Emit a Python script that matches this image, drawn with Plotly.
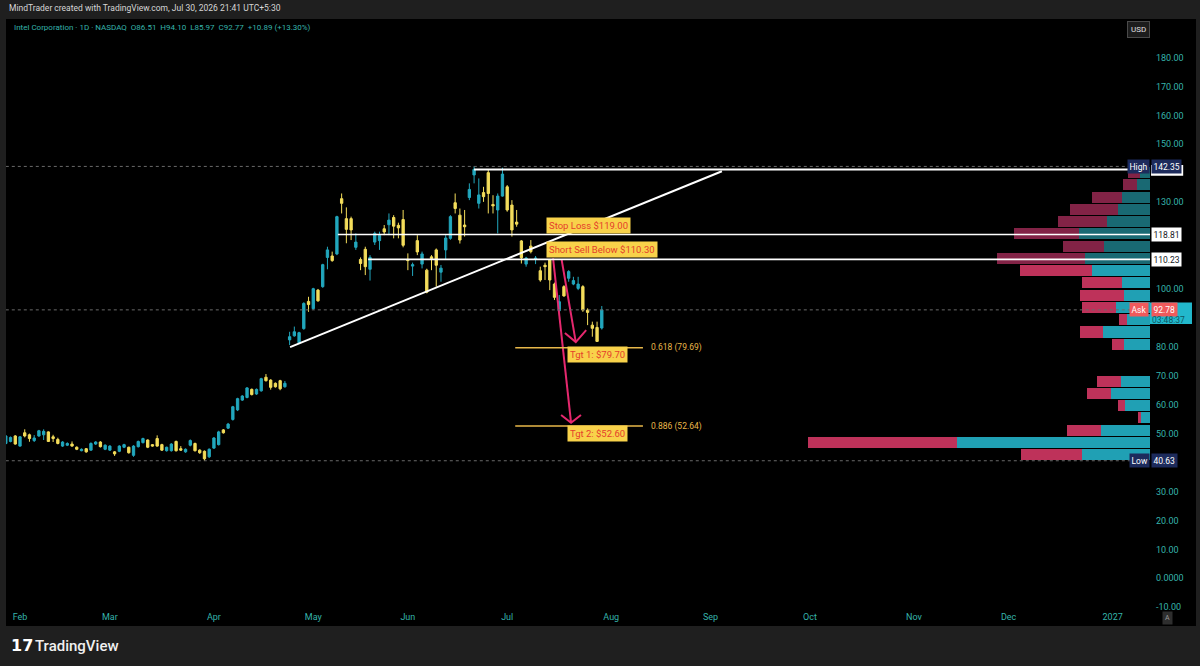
import pandas as pd
import plotly.graph_objects as go

# ---------------- data ----------------
first_bar = "2026-01-28"
anchor_day = "2026-02-02"
holidays = ["2026-02-16", "2026-04-03", "2026-05-25", "2026-06-19", "2026-07-03",
            "2026-09-07", "2026-11-26", "2026-12-25", "2027-01-01"]

opens = [46.6, 47.3, 49.2, 45.7, 50.3, 49.6, 47.6, 49.2, 49.6, 50.6, 48.9, 48.0, 45.7, 46.0, 46.4, 45.3,
         44.1, 44.8, 44.3, 46.4, 47.1, 44.6, 44.3, 43.7, 43.9, 45.3, 45.3, 42.5, 45.5, 46.9, 47.8, 46.2,
         48.3, 46.2, 44.1, 44.1, 47.3, 44.8, 43.7, 46.0, 46.6, 44.3, 43.9, 42.0, 45.0, 46.2, 51.3, 51.9,
         54.9, 58.2, 61.6, 62.5, 65.3, 63.7, 64.8, 69.5, 68.5, 67.4, 68.3, 66.2, 82.4, 83.8, 81.4, 86.3,
         95.7, 93.2, 99.6, 100.8, 110.9, 111.4, 112.1, 131.2, 124.3, 124.3, 114.4, 110.2, 113.7, 106.8,
         116.2, 116.7, 120.8, 122.2, 124.7, 122.0, 124.0, 110.2, 107.9, 116.7, 108.6, 106.5, 111.1, 113.5,
         105.8, 113.5, 117.5, 129.8, 125.5, 122.1, 131.6, 139.4, 129.6, 133.3, 140.2, 129.2, 127.3, 132.1,
         135.3, 129.0, 123.1, 116.6, 108.6, 114.8, 110.2, 106.3, 108.2, 110.0, 101.7, 92.5, 100.8, 103.7,
         101.7, 100.2, 100.8, 92.7, 87.5, 86.7, 86.51]
highs = [49.5, 49.0, 49.5, 49.2, 51.5, 50.0, 49.5, 51.3, 51.5, 50.8, 49.6, 48.6, 47.4, 47.0, 47.3, 45.6,
         44.9, 45.0, 47.0, 47.4, 47.4, 46.3, 46.0, 44.0, 46.0, 46.5, 45.5, 46.0, 47.6, 48.6, 48.0, 46.4,
         49.4, 46.5, 45.5, 46.7, 47.6, 45.7, 44.9, 48.0, 46.9, 44.6, 44.2, 44.9, 48.8, 51.0, 51.6, 53.7,
         59.6, 62.4, 63.3, 66.1, 65.6, 65.6, 69.3, 70.6, 68.8, 67.7, 68.6, 68.2, 85.2, 87.0, 85.2, 95.4,
         97.3, 100.4, 100.0, 108.7, 114.6, 112.9, 125.3, 133.0, 128.2, 125.0, 119.2, 110.9, 114.6, 111.7,
         119.8, 119.8, 122.1, 126.1, 125.5, 122.9, 127.3, 112.3, 109.1, 118.6, 112.9, 107.0, 111.7, 114.0,
         108.3, 118.6, 125.5, 133.0, 127.8, 127.3, 136.5, 142.35, 138.2, 135.3, 141.1, 132.4, 133.0, 141.9,
         135.9, 130.7, 127.3, 116.9, 111.1, 116.9, 111.4, 107.7, 109.1, 110.2, 102.2, 97.9, 101.3, 106.5,
         104.2, 104.2, 101.3, 93.3, 88.7, 88.7, 94.10]
lows = [46.3, 47.0, 46.2, 45.5, 48.7, 47.2, 47.1, 48.9, 47.8, 47.1, 47.1, 46.3, 45.4, 45.7, 45.5, 44.3,
        43.9, 43.4, 44.1, 46.1, 45.2, 44.3, 44.0, 42.3, 43.6, 45.0, 43.1, 42.0, 45.2, 46.6, 45.0, 45.5,
        45.5, 44.0, 43.8, 43.8, 43.8, 44.0, 43.4, 45.6, 43.8, 43.0, 40.63, 41.6, 44.7, 45.9, 50.0, 51.6,
        54.5, 57.8, 61.3, 62.2, 63.2, 63.4, 64.5, 68.0, 65.2, 65.9, 65.0, 65.9, 80.6, 83.5, 81.1, 85.9,
        92.1, 92.8, 95.6, 100.4, 106.8, 109.4, 111.7, 126.1, 115.8, 116.9, 113.5, 106.5, 104.8, 102.9,
        115.2, 113.5, 118.6, 118.6, 117.5, 117.5, 114.4, 106.5, 104.5, 111.7, 107.1, 98.5, 106.5, 100.8,
        102.5, 110.0, 117.0, 126.1, 115.7, 118.1, 130.7, 136.5, 127.8, 130.1, 126.1, 126.1, 119.2, 131.9,
        126.7, 118.1, 121.5, 108.8, 107.7, 112.3, 108.6, 102.5, 103.1, 99.6, 96.2, 92.1, 97.3, 102.5,
        101.3, 99.6, 92.1, 87.5, 83.5, 81.7, 85.97]
closes = [49.2, 48.7, 46.4, 48.9, 49.2, 48.3, 48.5, 51.0, 50.8, 47.3, 48.3, 46.6, 47.1, 46.6, 45.7, 44.6,
          44.6, 43.7, 46.6, 47.1, 45.5, 46.0, 45.7, 43.0, 45.7, 46.2, 43.4, 45.7, 47.3, 48.3, 45.3, 45.7,
          45.7, 44.3, 45.3, 46.4, 44.1, 44.3, 44.6, 47.6, 44.1, 43.4, 41.3, 44.6, 48.5, 50.6, 50.3, 53.3,
          59.3, 62.1, 63.0, 65.8, 63.5, 65.3, 69.0, 68.3, 66.0, 66.2, 65.5, 67.4, 83.5, 85.2, 84.9, 95.0,
          94.6, 100.1, 95.9, 108.4, 113.5, 109.8, 125.0, 129.6, 120.6, 120.4, 116.2, 108.8, 107.7, 110.9,
          119.2, 118.5, 119.7, 123.8, 121.7, 121.1, 115.1, 109.8, 108.4, 112.8, 112.1, 98.9, 110.5, 108.2,
          107.2, 117.6, 125.0, 127.8, 116.9, 121.5, 134.4, 141.3, 132.5, 131.9, 133.0, 128.7, 132.1, 139.7,
          127.3, 120.4, 122.4, 110.8, 110.7, 112.9, 110.7, 103.1, 107.7, 103.1, 97.1, 95.6, 97.6, 106.0,
          102.9, 101.7, 92.7, 91.9, 86.4, 81.88, 92.77]

month_labels = ["Feb", "Mar", "Apr", "May", "Jun", "Jul", "Aug", "Sep", "Oct", "Nov", "Dec", "2027"]
price_ticks = [-10, 0, 10, 20, 30, 50, 60, 70, 80, 100, 130, 150, 160, 170, 180]
price_tick_text = ["-10.00", "0.0000", "10.00", "20.00", "30.00", "50.00", "60.00", "70.00", "80.00",
                   "100.00", "130.00", "150.00", "160.00", "170.00", "180.00"]

# volume profile (visible range), rows from high to low
vp_high = 142.35
vp_low = 40.63
vp_up = [10, 13.3, 28.3, 32.3, 42.7, 70.7, 45.7, 65, 57.7, 27.7, 26, 34, 23.3, 46.7, 26, 0, 0,
         29.3, 39.3, 25, 9.3, 49.3, 192.7, 67.7]
vp_down = [11.7, 14, 29.3, 47.7, 49.7, 65, 41, 87.7, 72.3, 40.7, 44, 33.7, 7.3, 23.3, 12.3, 0, 0,
           24, 24, 7.3, 2.3, 34, 149, 61.7]
vp_in_value_area = [False] * 8 + [True] * 16

# levels & drawings
last_price = 92.78
stop_loss = 118.81
short_below = 110.23
range_top = 141.33
fib_levels = [79.69, 52.64]
fib_names = ["0.618 (79.69)", "0.886 (52.64)"]
trend_x = [57.1, 148.4]
trend_y = [79.9, 140.7]
top_line_x = [96.0, 234.7]
sl_start_x = 67.2
ss_start_x = 73.6
fib_x = [104.7, 131.7]
arrow_long = dict(x=[112.7, 116.5], y=[110.57, 53.77], head_x=[114.4, 116.5, 118.6], head_y=[56.45, 53.77, 56.45])
arrow_short = dict(x=[114.5, 117.5], y=[110.2, 81.65], head_x=[115.2, 117.5, 119.7], head_y=[84.76, 81.65, 85.8])

# ---------------- build ----------------
FONT = "Roboto"
TEAL = "#22a7bd"
YELLOW = "#f4dd5b"
AXIS_TXT = "#35b3ab"
PINK = "#e6286e"
FIB = "#e8b84a"

days = [d for d in pd.bdate_range(first_bar, "2027-02-26") if d.strftime("%Y-%m-%d") not in holidays]
i0 = [d.strftime("%Y-%m-%d") for d in days].index(anchor_day)
xs = [i - i0 for i in range(len(opens))]

tickvals = []
seen = set()
for i, d in enumerate(days):
    key = (d.year, d.month)
    if key not in seen:
        seen.add(key)
        if (d.year == 2026 and d.month >= 2) or (d.year == 2027 and d.month == 1):
            tickvals.append(i - i0)
tickvals = tickvals[:len(month_labels)]

fig = go.Figure()

fig.add_trace(go.Candlestick(
    x=xs, open=opens, high=highs, low=lows, close=closes,
    increasing=dict(line=dict(color=TEAL, width=1), fillcolor=TEAL),
    decreasing=dict(line=dict(color=YELLOW, width=1), fillcolor=YELLOW),
    whiskerwidth=0, hoverinfo="skip", showlegend=False))

# volume profile
row_h = (vp_high - vp_low) / len(vp_up)
centers = [vp_high - (k + 0.5) * row_h for k in range(len(vp_up))]
up_cols = ["#20a0b4" if v else "#196973" for v in vp_in_value_area]
dn_cols = ["#be325a" if v else "#822346" for v in vp_in_value_area]
fig.add_trace(go.Bar(y=centers, x=vp_up, orientation="h", base=0, width=row_h * 0.9,
                     marker=dict(color=up_cols, line=dict(width=0)), xaxis="x2", yaxis="y",
                     hoverinfo="skip", showlegend=False))
fig.add_trace(go.Bar(y=centers, x=vp_down, orientation="h", base=vp_up, width=row_h * 0.9,
                     marker=dict(color=dn_cols, line=dict(width=0)), xaxis="x2", yaxis="y",
                     hoverinfo="skip", showlegend=False))

# arrows
for arr in (arrow_long, arrow_short):
    fig.add_trace(go.Scatter(x=arr["x"], y=arr["y"], mode="lines", line=dict(color=PINK, width=2),
                             hoverinfo="skip", showlegend=False))
    fig.add_trace(go.Scatter(x=arr["head_x"], y=arr["head_y"], mode="lines", line=dict(color=PINK, width=2),
                             hoverinfo="skip", showlegend=False))

shapes = []
# black chart panel
shapes.append(dict(type="rect", xref="paper", yref="paper", x0=0, x1=1.0402, y0=-0.027, y1=1.0,
                   fillcolor="#000000", line=dict(width=0), layer="below"))
# dotted lines: high, last price, low
for lv in (vp_high, last_price, vp_low):
    shapes.append(dict(type="line", xref="x", yref="y", x0=-3, x1=top_line_x[1], y0=lv, y1=lv,
                       line=dict(color="#6a6a6a", width=1, dash="dot")))
# white drawings
shapes.append(dict(type="line", xref="x", yref="y", x0=trend_x[0], y0=trend_y[0], x1=trend_x[1], y1=trend_y[1],
                   line=dict(color="#ffffff", width=2)))
shapes.append(dict(type="line", xref="x", yref="y", x0=top_line_x[0], x1=top_line_x[1], y0=range_top, y1=range_top,
                   line=dict(color="#ffffff", width=2)))
shapes.append(dict(type="line", xref="x", yref="y", x0=sl_start_x, x1=240, y0=stop_loss, y1=stop_loss,
                   line=dict(color="#ffffff", width=1.6)))
shapes.append(dict(type="line", xref="x", yref="y", x0=ss_start_x, x1=240, y0=short_below, y1=short_below,
                   line=dict(color="#ffffff", width=1.6)))
for lv in fib_levels:
    shapes.append(dict(type="line", xref="x", yref="y", x0=fib_x[0], x1=fib_x[1], y0=lv, y1=lv,
                       line=dict(color=FIB, width=1.5)))
# hidden price label of the range-top line (mostly covered by the High badge)
shapes.append(dict(type="rect", xref="paper", yref="y", x0=1.0009, x1=1.029, y0=range_top - 2.2, y1=range_top + 1.5,
                   fillcolor="#ffffff", line=dict(width=0), layer="above"))
# countdown box behind last price
shapes.append(dict(type="rect", xref="paper", yref="y", x0=1.0, x1=1.0367, y0=last_price - 4.9, y1=last_price + 2.5,
                   fillcolor="#22b8cc", line=dict(width=0), layer="above"))

ann = []


def txt(text, x, y, size=9, color="#ffffff", xanchor="left", yanchor="middle", xref="x", yref="y",
        bg=None, pad=2, xshift=0, yshift=0, weight="normal", family=FONT, border=None):
    d = dict(text=text, x=x, y=y, xref=xref, yref=yref, xanchor=xanchor, yanchor=yanchor,
             showarrow=False, font=dict(size=size, color=color, family=family, weight=weight),
             borderpad=pad, xshift=xshift, yshift=yshift)
    if bg:
        d["bgcolor"] = bg
    if border:
        d["bordercolor"] = border
        d["borderwidth"] = 1
    return d


LBL_BG = "#f8d24a"
LBL_FG = "#e5402b"
ann.append(txt("Stop Loss $119.00", 111.2, 122.1, size=9.5, color=LBL_FG, bg=LBL_BG))
ann.append(txt("Short Sell Below $110.30", 111.2, 113.8, size=9.5, color=LBL_FG, bg=LBL_BG))
ann.append(txt("Tgt 1: $79.70", 115.7, 77.2, size=9.5, color=LBL_FG, bg=LBL_BG))
ann.append(txt("Tgt 2: $52.60", 115.7, 50.0, size=9.5, color=LBL_FG, bg=LBL_BG))
for lv, nm in zip(fib_levels, fib_names):
    ann.append(txt(nm, fib_x[1] + 1.0, lv, size=8.5, color=FIB))

# axis badges
NAVY = "#1d2b5c"
ann.append(txt("High", 1.0, vp_high, xref="paper", xanchor="right", size=8.5, bg=NAVY, pad=1.5))
ann.append(txt(f"{vp_high:.2f}", 1.0, vp_high, xref="paper", size=8.5, bg=NAVY, pad=1.5, xshift=1))
ann.append(txt(f"{stop_loss:.2f}", 1.0, stop_loss, xref="paper", size=8.5, color="#131722", bg="#ffffff", pad=1.5, xshift=1))
ann.append(txt(f"{short_below:.2f}", 1.0, short_below, xref="paper", size=8.5, color="#131722", bg="#ffffff", pad=1.5, xshift=1))
ann.append(txt("Ask", 1.0, last_price, xref="paper", xanchor="right", size=8.5, bg="#f05a5c", pad=1.5, xshift=-1))
ann.append(txt(f"{last_price:.2f}", 1.0, last_price, xref="paper", size=8.5, bg="#f05a5c", pad=1.5, xshift=1))
ann.append(txt("03:48:37", 1.0, last_price, xref="paper", size=8.5, color="#0e5660", xshift=1, yshift=-10.5, pad=0))
ann.append(txt("Low", 1.0, vp_low, xref="paper", xanchor="right", size=8.5, bg=NAVY, pad=1.5))
ann.append(txt(f"{vp_low:.2f}", 1.0, vp_low, xref="paper", size=8.5, bg=NAVY, pad=1.5, xshift=1))

# header texts
ann.append(txt("MindTrader created with TradingView.com, Jul 30, 2026 21:41 UTC+5:30", 0.0, 1.0178,
               xref="paper", yref="paper", size=8.5, color="#d6d6d6"))
ann.append(txt("Intel Corporation · 1D · NASDAQ  O86.51  H94.10  L85.97  C92.77  +10.89 (+13.30%)", 0.0045, 0.985,
               xref="paper", yref="paper", size=8, color=AXIS_TXT))
ann.append(txt("USD", 0.99, 0.983, xref="paper", yref="paper", xanchor="center", size=8, color="#e0e0e0",
               bg="#1c1c1c", pad=3, border="#4a4a4a"))
ann.append(txt("A", 1.0149, -0.0135, xref="paper", yref="paper", xanchor="center", size=7, color="#9a9a9a",
               bg="#2e2e2e", pad=2))
# footer logo
ann.append(txt("<b>17</b>", 0.0015, -0.0609, xref="paper", yref="paper", size=16, color="#ffffff",
               family="DejaVu Sans"))
ann.append(txt("TradingView", 0.0227, -0.0609, xref="paper", yref="paper", size=15, color="#f0f0f0",
               weight=500))

fig.update_layout(
    width=1200, height=666,
    margin=dict(l=6, r=50, t=19, b=56),
    paper_bgcolor="#1f1f1f", plot_bgcolor="#000000",
    barmode="overlay", bargap=0,
    showlegend=False,
    shapes=shapes, annotations=ann,
    xaxis=dict(range=[-2.96, 238.9], tickvals=tickvals, ticktext=month_labels, showgrid=False,
               zeroline=False, showline=False, ticks="", tickfont=dict(color=AXIS_TXT, size=9, family=FONT),
               rangeslider=dict(visible=False), fixedrange=True),
    xaxis2=dict(overlaying="x", range=[1144, 0], visible=False, fixedrange=True),
    yaxis=dict(range=[-10.95, 193.3], side="right", tickvals=price_ticks, ticktext=price_tick_text,
               showgrid=False, zeroline=False, showline=False, ticks="", ticklabelstandoff=5,
               tickfont=dict(color=AXIS_TXT, size=9, family=FONT), fixedrange=True),
)

fig.write_html("out.html")
